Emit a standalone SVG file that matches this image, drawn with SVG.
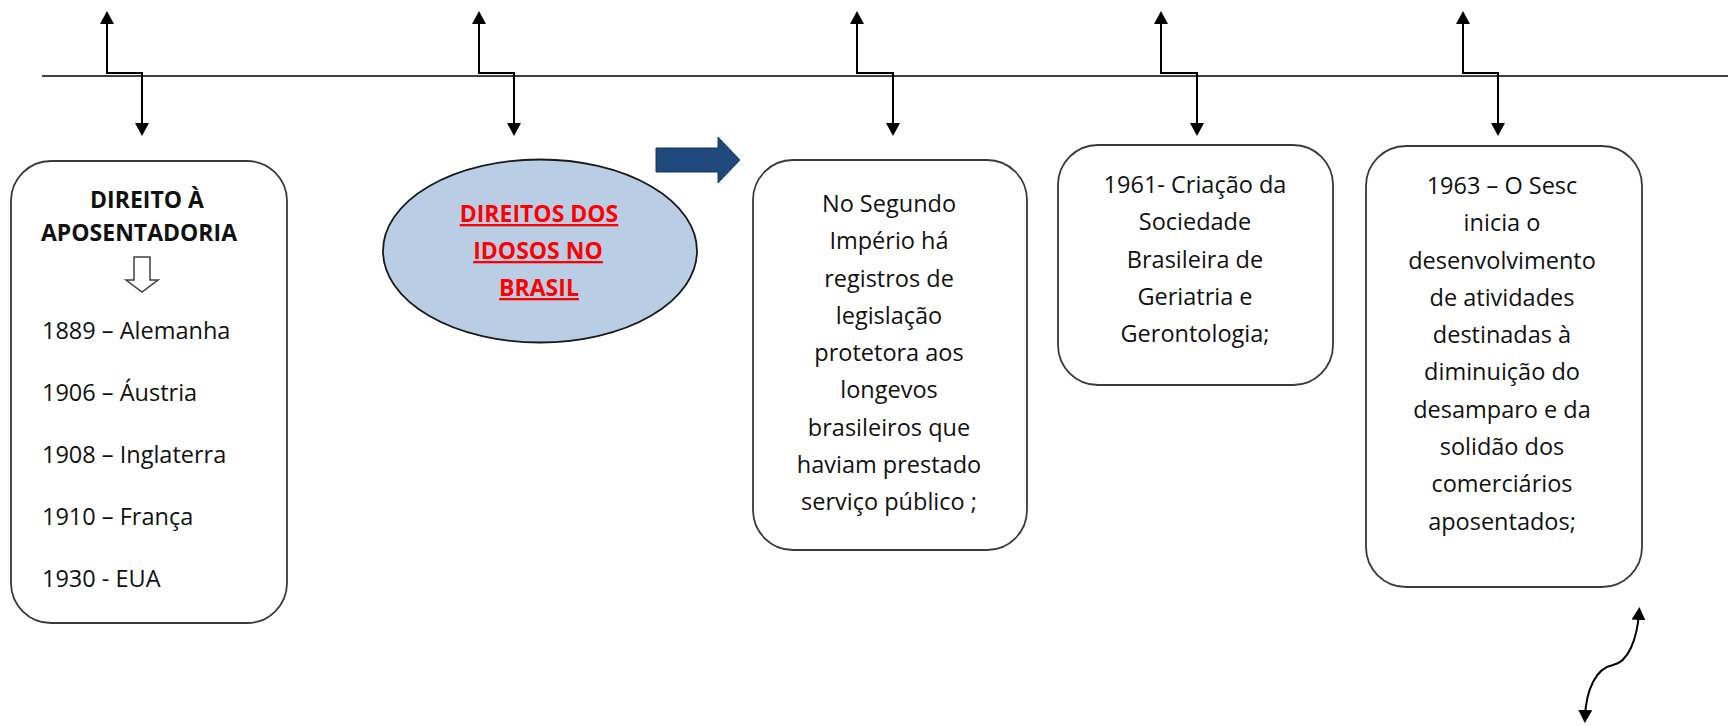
<svg xmlns="http://www.w3.org/2000/svg" width="1728" height="726" viewBox="0 0 1728 726">
<defs>
<style>
.box{fill:#fff;stroke:#3a3a3a;stroke-width:1.8}
.t{font-family:"Open Sans","Liberation Sans",sans-serif;font-size:23.5px;fill:#111}
.c{text-anchor:middle}
.b{font-weight:700;font-size:23px}
.red{fill:#ff0000;text-decoration:underline}
.con{fill:none;stroke:#000;stroke-width:2}
</style>
<marker id="ah" markerUnits="userSpaceOnUse" markerWidth="14" markerHeight="14" refX="7" refY="7" orient="auto-start-reverse" viewBox="0 0 14 14">
<path d="M0,0 L13,7 L0,14 Z" fill="#000"/>
</marker>
</defs>
<rect width="1728" height="726" fill="#fff"/>
<line x1="42" y1="76" x2="1728" y2="76" stroke="#404040" stroke-width="2"/>
<g id="connectors">
<path class="con" d="M107,17 V73 H142 V130" marker-start="url(#ah)" marker-end="url(#ah)"/>
<path class="con" d="M479,17 V73 H514 V130" marker-start="url(#ah)" marker-end="url(#ah)"/>
<path class="con" d="M857,17 V73 H893 V130" marker-start="url(#ah)" marker-end="url(#ah)"/>
<path class="con" d="M1161,17 V73 H1197 V130" marker-start="url(#ah)" marker-end="url(#ah)"/>
<path class="con" d="M1463,17 V73 H1498 V130" marker-start="url(#ah)" marker-end="url(#ah)"/>
<path class="con" d="M1639,613 C1637,640 1628,662 1613,665 C1596,668 1586,690 1585,717" marker-start="url(#ah)" marker-end="url(#ah)"/>
<polygon points="656,148 718,148 718,137 740,160 718,183 718,172 656,172" fill="#1f497d" stroke="#17375e" stroke-width="1"/>
</g>
<g id="box1">
<rect class="box" x="11" y="161" width="276" height="462" rx="40"/>
<text class="t c b" x="147" y="208">DIREITO À</text>
<text class="t c b" x="139" y="241">APOSENTADORIA</text>
<polygon points="134,257 150,257 150,280 158,280 142,292 126,280 134,280" fill="#fff" stroke="#404040" stroke-width="1.5"/>
<text class="t" x="42" y="339">1889 – Alemanha</text>
<text class="t" x="42" y="401">1906 – Áustria</text>
<text class="t" x="42" y="463">1908 – Inglaterra</text>
<text class="t" x="42" y="525">1910 – França</text>
<text class="t" x="42" y="587">1930 - EUA</text>
</g>
<g id="ellipse">
<ellipse cx="540" cy="251" rx="157" ry="91.5" fill="#b9cde5" stroke="#1a1a1a" stroke-width="1.8"/>
<text class="t c b red" x="539" y="222">DIREITOS DOS</text>
<text class="t c b red" x="538" y="259">IDOSOS NO</text>
<text class="t c b red" x="539" y="296">BRASIL</text>
</g>
<g id="box3">
<rect class="box" x="753" y="160" width="274" height="390" rx="40"/>
<text class="t c" x="889" y="212">No Segundo</text>
<text class="t c" x="889" y="249">Império há</text>
<text class="t c" x="889" y="287">registros de</text>
<text class="t c" x="889" y="324">legislação</text>
<text class="t c" x="889" y="361">protetora aos</text>
<text class="t c" x="889" y="398">longevos</text>
<text class="t c" x="889" y="436">brasileiros que</text>
<text class="t c" x="889" y="473">haviam prestado</text>
<text class="t c" x="889" y="510">serviço público ;</text>
</g>
<g id="box4">
<rect class="box" x="1058" y="145" width="275" height="240" rx="40"/>
<text class="t c" x="1195" y="193">1961- Criação da</text>
<text class="t c" x="1195" y="230">Sociedade</text>
<text class="t c" x="1195" y="268">Brasileira de</text>
<text class="t c" x="1195" y="305">Geriatria e</text>
<text class="t c" x="1195" y="342">Gerontologia;</text>
</g>
<g id="box5">
<rect class="box" x="1366" y="146" width="276" height="441" rx="40"/>
<text class="t c" x="1502" y="194">1963 – O Sesc</text>
<text class="t c" x="1502" y="231">inicia o</text>
<text class="t c" x="1502" y="269">desenvolvimento</text>
<text class="t c" x="1502" y="306">de atividades</text>
<text class="t c" x="1502" y="343">destinadas à</text>
<text class="t c" x="1502" y="380">diminuição do</text>
<text class="t c" x="1502" y="418">desamparo e da</text>
<text class="t c" x="1502" y="455">solidão dos</text>
<text class="t c" x="1502" y="492">comerciários</text>
<text class="t c" x="1502" y="530">aposentados;</text>
</g>
</svg>
